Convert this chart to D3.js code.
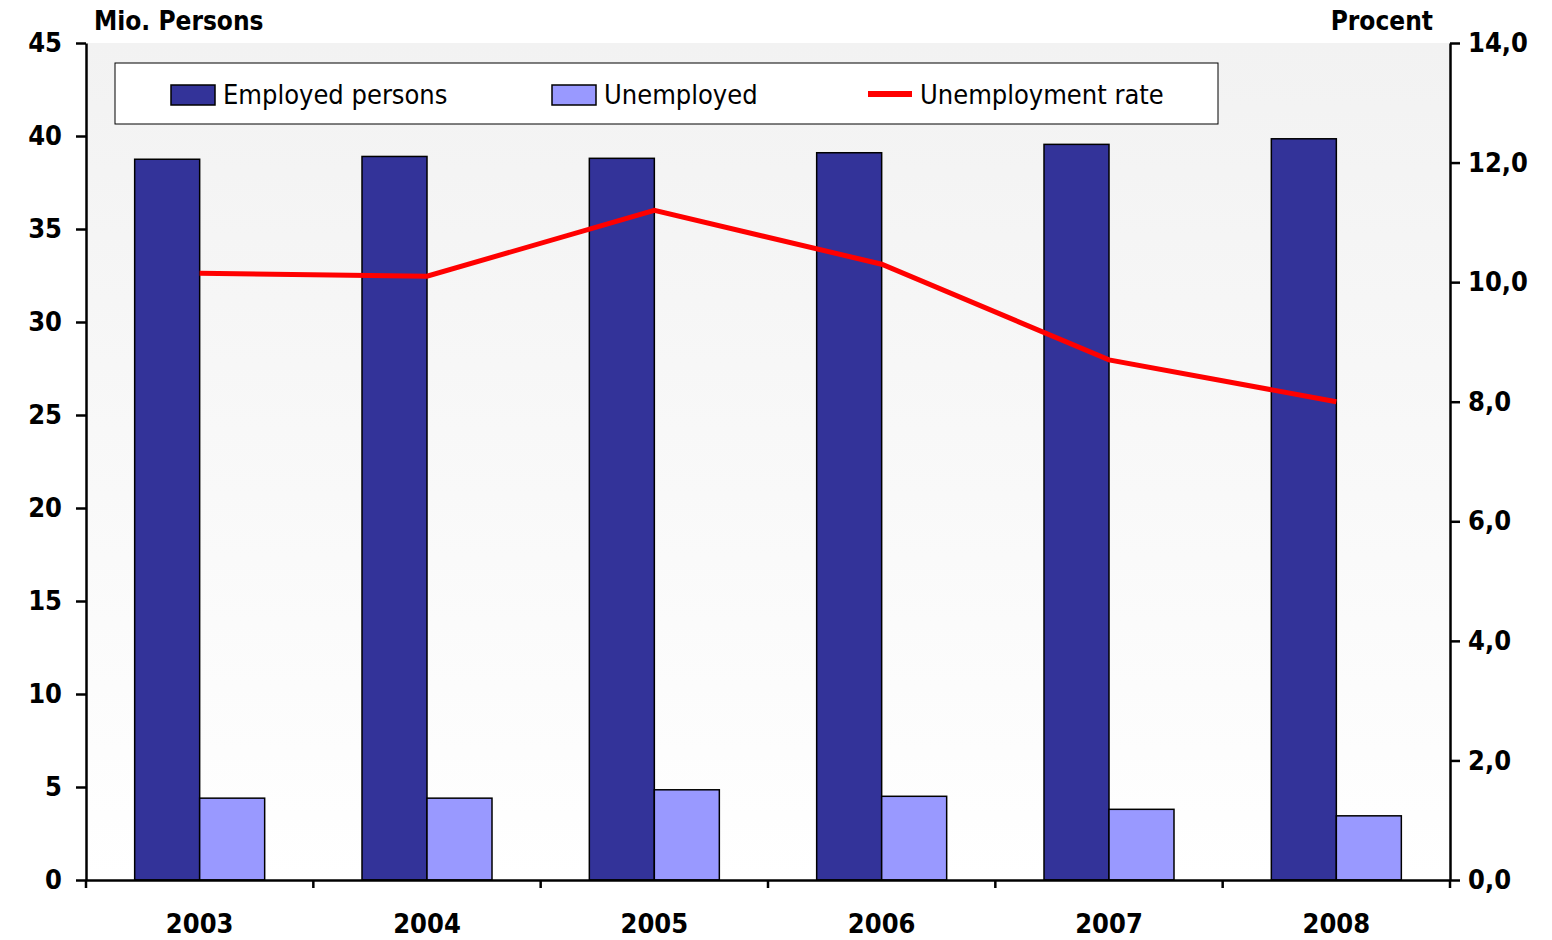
<!DOCTYPE html>
<html><head><meta charset="utf-8">
<script src="https://cdn.jsdelivr.net/npm/d3@7"></script>
<style>body{margin:0;background:#fff}text{font-family:"DejaVu Sans Condensed","DejaVu Sans",sans-serif}</style>
</head><body><svg id="c" width="1552" height="940"></svg>
<script>
const years = ["2003","2004","2005","2006","2007","2008"];
const employed = [38.75,38.9,38.8,39.1,39.55,39.85];
const unemployed = [4.4,4.4,4.85,4.5,3.8,3.45];
const rate = [10.15,10.1,11.2,10.3,8.7,8.0];
const leftTicks = [0,5,10,15,20,25,30,35,40,45];
const rightTicks = [0,2,4,6,8,10,12,14];

const svg = d3.select("#c");
const L = 86, R = 1450, T = 43, B = 880;
const x = d3.scaleBand().domain(years).range([L, R]);
const yl = d3.scaleLinear().domain([0,45]).range([B, T]);
const yr = d3.scaleLinear().domain([0,14]).range([B, T]);

const grad = svg.append("defs").append("linearGradient").attr("id","bg").attr("x1",0).attr("y1",0).attr("x2",0).attr("y2",1);
grad.append("stop").attr("offset","0%").attr("stop-color","#f2f2f2");
grad.append("stop").attr("offset","100%").attr("stop-color","#ffffff");
svg.append("rect").attr("x",L).attr("y",T).attr("width",R-L).attr("height",B-T).attr("fill","url(#bg)");

const bw = 65;
svg.selectAll(".e").data(years).enter().append("rect")
  .attr("x", d => x(d) + x.bandwidth()/2 - bw).attr("y", (d,i) => yl(employed[i]))
  .attr("width", bw).attr("height", (d,i) => B - yl(employed[i]))
  .attr("fill","#333399").attr("stroke","#000").attr("stroke-width",1.5);
svg.selectAll(".u").data(years).enter().append("rect")
  .attr("x", d => x(d) + x.bandwidth()/2).attr("y", (d,i) => yl(unemployed[i]))
  .attr("width", bw).attr("height", (d,i) => B - yl(unemployed[i]))
  .attr("fill","#9999ff").attr("stroke","#000").attr("stroke-width",1.5);

svg.append("path").datum(rate)
  .attr("d", d3.line().x((d,i) => x(years[i]) + x.bandwidth()/2).y(d => yr(d)))
  .attr("fill","none").attr("stroke","#ff0000").attr("stroke-width",5);

const styleAxis = g => {
  g.select(".domain").attr("stroke","#000").attr("stroke-width",2.5);
  g.selectAll(".tick line").attr("stroke","#000").attr("stroke-width",2.5);
  g.selectAll("text").attr("font-size",27).attr("fill","#000").attr("font-weight",600);
};
svg.append("g").attr("transform",`translate(${L},0)`)
  .call(d3.axisLeft(yl).tickValues(leftTicks).tickSize(10).tickPadding(14).tickSizeOuter(0)).call(styleAxis);
svg.append("g").attr("transform",`translate(${R},0)`)
  .call(d3.axisRight(yr).tickValues(rightTicks).tickSize(10).tickPadding(8).tickSizeOuter(0)
    .tickFormat(d => d3.format(".1f")(d).replace(".",","))).call(styleAxis);
const xa = svg.append("g").attr("transform",`translate(0,${B})`)
  .call(d3.axisBottom(x).tickSize(0).tickPadding(34)).call(styleAxis);
xa.selectAll("text").attr("font-weight","bold");
xa.selectAll(".sep").data(d3.range(years.length+1)).enter().append("line")
  .attr("x1", i => L + i*x.step()).attr("x2", i => L + i*x.step())
  .attr("y1",0).attr("y2",8).attr("stroke","#000").attr("stroke-width",2.5);

svg.append("text").attr("x",94).attr("y",30).attr("font-size",26).attr("font-weight","bold").text("Mio. Persons");
svg.append("text").attr("x",1433).attr("y",30).attr("font-size",26).attr("font-weight","bold").attr("text-anchor","end").text("Procent");

const lg = svg.append("g");
lg.append("rect").attr("x",115).attr("y",63).attr("width",1103).attr("height",61).attr("fill","#fff").attr("stroke","#000").attr("stroke-width",1);
const items = [["Employed persons","#333399","bar",171],["Unemployed","#9999ff","bar",552],["Unemployment rate","#ff0000","line",868]];
items.forEach(([t,c,k,px]) => {
  if (k === "bar") lg.append("rect").attr("x",px).attr("y",85).attr("width",44).attr("height",20).attr("fill",c).attr("stroke","#000").attr("stroke-width",1.5);
  else lg.append("line").attr("x1",px).attr("x2",px+44).attr("y1",94).attr("y2",94).attr("stroke",c).attr("stroke-width",6);
  lg.append("text").attr("x",px+52).attr("y",104).attr("font-size",27).text(t);
});
</script></body></html>
